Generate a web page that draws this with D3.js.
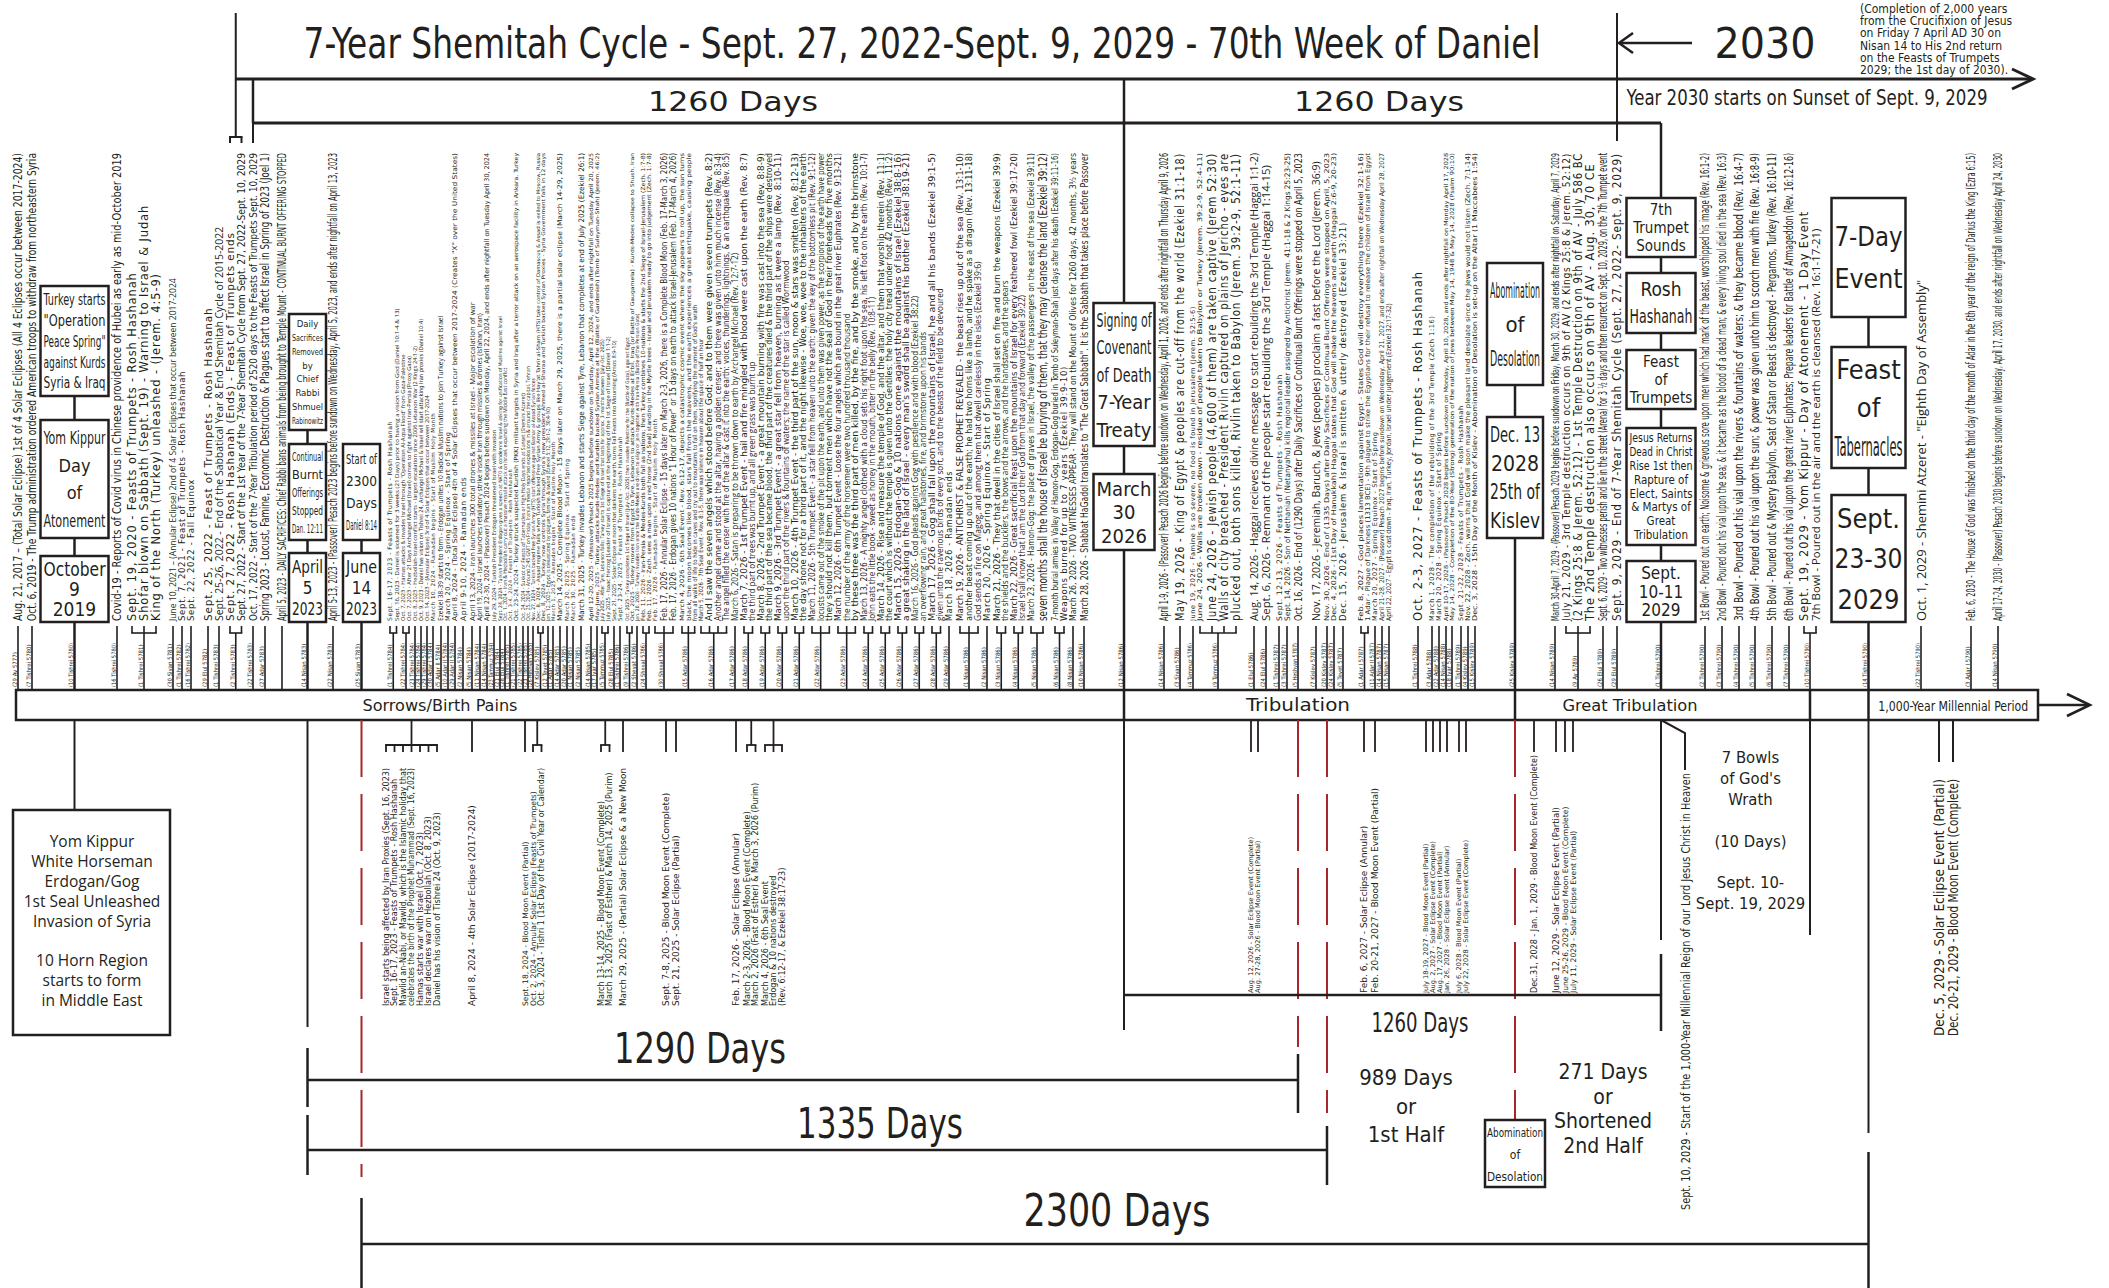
<!DOCTYPE html>
<html>
<head>
<meta charset="utf-8">
<title>7-Year Shemitah Cycle - 70th Week of Daniel</title>
<style>
  body { margin: 0; background: #fff; }
  svg { display: block; }
  text { fill: #231f20; }
  .ln { stroke: #231f20; fill: none; }
  .red { stroke: #a8262b; stroke-width: 2; stroke-dasharray: 57 17; fill: none; }
  .box { fill: #fff; stroke: #231f20; stroke-width: 2.5; }
  .cond { font-family: "Liberation Sans Narrow", "DejaVu Sans Condensed", "Open Sans", sans-serif; }
  .reg { font-family: "Open Sans", "Liberation Sans", sans-serif; }
  .wide { font-family: "DejaVu Sans", Verdana, sans-serif; }
</style>
</head>
<body>
<svg width="2109" height="1288"></svg>
<script src="https://cdn.jsdelivr.net/npm/d3@7/dist/d3.min.js"></script>
<script>
// ---------------- data ----------------
// events written above the time bar: [date, text, kind]  (kind h = holy day, e = event, n = long note)
var topLines = [
  ['2017-08-21', 'Aug. 21, 2017 – (Total Solar Eclipse) 1st of 4 Solar Eclipses (All 4 Eclipses occur between 2017-2024)', 'n'],
  ['2019-10-06', 'Oct. 6, 2019 - The Trump administration ordered American troops to withdraw from northeastern Syria', 'n'],
  ['2019-10-15', 'Covid-19 - Reports of Covid virus in Chinese providence of Hubei as early as mid-October 2019', 'n'],
  ['2020-09-19', 'Sept. 19, 2020 - Feasts of Trumpets - Rosh Hashanah', 'h'],
  ['2020-09-19', 'Shofar blown on Sabbath (Sept. 19) - Warning to Israel & Judah', 'h'],
  ['2020-09-19', 'King of the North (Turkey) unleashed - (Jerem. 4:5-9)', 'h'],
  ['2021-06-10', 'June 10, 2021 – (Annular Eclipse) 2nd of 4 Solar Eclipses that occur between 2017-2024', 'e'],
  ['2021-09-07', 'Sept. 7, 2021 - Feast of Trumpets - Rosh Hashanah', 'h'],
  ['2021-09-22', 'Sept. 22, 2022 - Fall Equinox', 'h'],
  ['2022-09-25', 'Sept. 25, 2022 - Feast of Trumpets - Rosh Hashanah', 'h'],
  ['2022-09-26', 'Sept. 25-26, 2022 - End of the Sabbatical Year & End Shemitah Cycle of 2015-2022', 'e'],
  ['2022-09-27', 'Sept. 27, 2022 - Rosh Hashanah (Ends) - Feast of Trumpets ends', 'h'],
  ['2022-09-27', 'Sept. 27, 2022 - Start of the 1st Year of the 7-Year Shemitah Cycle from Sept. 27, 2022-Sept. 10, 2029', 'n'],
  ['2022-10-17', 'Oct. 17, 2022 - Start of the 7-Year Tribulation period of 2520 days to the Feasts of Trumpets Sept. 10, 2029', 'n'],
  ['2023-03-20', 'Spring 2023 - Locust, Famine, Economic Destruction & Plagues start to affect Israel in Spring of 2023 (Joel 1)', 'n'],
  ['2023-04-05', 'April 5, 2023 - DAILY SACRIFICES: Chief Rabbi bans animals from being brought to Temple Mount - CONTINUAL BURNT OFFERING STOPPED', 'n'],
  ['2023-04-13', 'April 5-13, 2023 - (Passover) Pesach 2023 begins before sundown on Wednesday, April 5, 2023, and ends after nightfall on April 13, 2023', 'n'],
  ['2023-09-16', 'Sept. 16-17, 2023 - Feasts of Trumpets - Rosh Hashanah', 'h'],
  ['2023-09-16', 'Sept. 16, 2023 - Daniel is sickened for 3 weeks (21 Days) prior to having a vision from God (Daniel 10:1-4 & 13)', 'e'],
  ['2023-10-07', 'Oct. 7, 2023 - Hamas attacks & invades Israel through "Operation Al-Aqsa Flood" from Gaza-Palestine', 'e'],
  ['2023-10-07', 'Oct. 7, 2023 - After 21 Days Archangel Michael (Israel) comes to fight against Iran-Persia (Proxy Gaza)', 'e'],
  ['2023-10-08', 'Oct. 8, 2023 - Hezbollah-Israel conflict starts - largest escalation since 2006 Lebanon War (2 Kings 24:1-2)', 'e'],
  ['2023-10-09', 'Oct. 9, 2023 - Daniel has vision on Tishrei 24, Archangel Michael & Israel will start attacking Iran proxies (Daniel 10:4)', 'n'],
  ['2023-10-14', 'Oct. 14, 2023 – (Annular Eclipse) 3rd of 4 Solar Eclipses that occur between 2017-2024', 'e'],
  ['2024-03-10', 'March 10, 2024 - Ramadan begins - Start of Muslim Holy Month', 'h'],
  ['2024-03-15', 'Ezekiel 38-39 starts to form - Erdogan unites 10 Radical Muslim nations to join Turkey against Israel', 'e'],
  ['2024-03-20', 'March 20, 2024 - Spring Equinox - Start of Spring', 'h'],
  ['2024-04-08', 'April 8, 2024 - (Total Solar Eclipse) 4th of 4 Solar Eclipses that occur between 2017-2024 (Creates "X" over the United States)', 'n'],
  ['2024-04-10', 'April 9-10, 2024 - Ramadan ends', 'h'],
  ['2024-04-13', 'April 13, 2024 - Iran launches 300 total drones & missiles at Israel - Major escalation of war', 'e'],
  ['2024-04-19', 'April 19, 2024 - Israel launches retaliatory strike inside Iran through missiles & drones (Isfahan, Iran)', 'e'],
  ['2024-04-22', 'April 22-30, 2024 - (Passover) Pesach 2024 begins before sundown on Monday, April 22, 2024, and ends after nightfall on Tuesday April 30, 2024', 'n'],
  ['2024-07-29', 'July 29, 2024 - Turkish President Erdogan threatened Israel with invasion', 'e'],
  ['2024-09-24', 'Sept. 24, 2024 - Turkish President Erdogan gives a speech at NATO & condemns Israel & asking for unification of Muslims against Israel', 'n'],
  ['2024-10-01', 'Oct. 1, 2024 - Iran & Hezbollah carry out a massive missile attack on Israel, expanding the Middle East conflict', 'e'],
  ['2024-10-03', 'Oct. 3-4, 2024 - Feasts of Trumpets - Rosh Hashanah', 'h'],
  ['2024-10-23', 'Oct. 23-24, 2024 - Turkey struck suspected Kurdish (PKK) militant targets in Syria and Iraq after a terror attack on an aerospace facility in Ankara, Turkey', 'n'],
  ['2024-10-24', 'Oct. 24, 2024 - Sukkot or Feasts of Tabernacles or High Holy Days ends at Sunset (Shemini Atzeret)', 'e'],
  ['2024-10-25', 'Oct. 25, 2024 - Around 2:45 GMT on Friday, Iranian media reported explosions in & around the capital, Tehran', 'e'],
  ['2024-11-27', 'Nov. 27, 2024 - Turkish backed Free Syrian Army (HTS) start offensive against Bashar al-Assad Syrian forces', 'n'],
  ['2024-12-08', "Dec. 8, 2024 - Assad regime falls when Turkish backed Free Syrian Army & groups like Hay'at Tahrir al-Sham (HTS) take control of Damascus & Assad is exiled to Moscow, Russia", 'n'],
  ['2024-12-08', "Dec. 8, 2024 - Turkey now controls Syria through Syria's new president Ahmed al-Sharaa and Turkish backed Syrian Proxies - Syria Government falls in 12 days", 'n'],
  ['2025-01-12', 'Jan. 12, 2025 - Egypt is devastated by plagues, famine, & sword (Ezekiel 5:12, 29:1-2, 30:4-10)', 'e'],
  ['2025-03-01', 'March 1, 2025 - Ramadan begins - Start of Muslim Holy Month', 'h'],
  ['2025-03-14', 'March 14, 2025 - Complete Blood Moon - 15 days later on March 29, 2025, there is a partial solar eclipse (March 14-29, 2025)', 'n'],
  ['2025-03-20', 'March 20, 2025 - Spring Equinox - Start of Spring', 'h'],
  ['2025-03-30', 'March 30, 2025 - Ramadan ends', 'h'],
  ['2025-03-31', 'March 31, 2025 - Turkey invades Lebanon and starts Siege against Tyre, Lebanon that completes at end of July 2025 (Ezekiel 26:1)', 'n'],
  ['2025-04-12', 'April 12-20, 2025 - (Passover) Pesach 2025 begins before sundown on Saturday, April 12, 2024, and ends after nightfall on Tuesday April 20, 2025', 'n'],
  ['2025-05-15', 'May-June, 2025 - Turkey attacks Kurds-Medes and Kurdish backed Syrian Armies at the (Battle of Gardenish) (Tomb of Suleyman-Shah) (Jerem. 46:2)', 'n'],
  ['2025-07-01', 'July 2025 - After Tyre, Lebanon falls; Turkey starts 1st Siege of Israel that lasts for approx. 3 months between (July-Oct. 2025)', 'n'],
  ['2025-07-01', 'July 2025 - Isaac Herzog (Leader of Israel) is captured at the beginning of the 1st Siege of Israel (Daniel 1:1-2)', 'e'],
  ['2025-09-21', 'Sept. 21, 2025 - Solar Eclipse at noon that darkens the earth, turns Fall Feasts into Mourning (Amos 8:9-10)', 'e'],
  ['2025-09-23', 'Sept. 23-24, 2025 - Feasts of Trumpets - Rosh Hashanah', 'h'],
  ['2025-10-01', 'Oct. 2025 - Turkey completes 1st Siege of Israel (July-Oct. 2025) then invades Palestine for the (Battle of Gaza), against Egypt', 'n'],
  ['2025-10-01', 'Oct. 2025 - Turkey moves from Egypt to Tyre, Lebanon to attack Kurds-Medes at Erbil, Iraq (or Battle of Gaugamela) - Kurds-Medes collapse to Shush, Iran', 'n'],
  ['2026-01-20', 'Jan. 20, 2026 - Turkey invades Iran once the Kurds-Medes are driven to align or join together with Iran-Persia (Battle of the Persian Gate)', 'n'],
  ['2026-02-11', 'Feb. 11, 2026 - Iran-Persia & Medes-Kurds both fall as nations; then Turkey combines 10-nations & starts the 2nd Siege of Israel-Jerusalem (Zech. 1:7-8)', 'n'],
  ['2026-02-11', 'Feb. 11, 2026 - Zech. sees a man upon a red horse (2nd Seal) standing in the Myrtle trees - Israel and Jerusalem ready to go into judgement (Zech. 1:7-8)', 'n'],
  ['2026-02-17', 'Feb. 17, 2026 - Ramadan begins - Start of Muslim Holy Month', 'h'],
  ['2026-02-17', 'Feb. 17, 2026 - Annular Solar Eclipse - 15 days later on March 2-3, 2026, there is a Complete Blood Moon (Feb. 17-March 3, 2026)', 'n'],
  ['2026-02-17', 'Feb. 17, 2026 - Erdogan gives 10 nations "1 Hour of Power" or 15 days on earth to attack Israel-Jerusalem (Feb. 17-March 4, 2026)', 'n'],
  ['2026-03-04', 'March 4, 2026 - 6th Seal Event - Rev. 6:12-17, depicts a catastrophic cosmic event where the sky appears to roll up, the sun turns', 'n'],
  ['2026-03-04', 'black, the moon becomes like blood, stars fall from the heavens, and the earth experiences a great earthquake, causing people', 'n'],
  ['2026-03-04', "from all walks of life to hide in caves and cry out to mountains to fall on them, signifying the moment of God's wrath", 'n'],
  ['2026-03-05', 'March 5, 2026 - 7th Seal Event - Rev. 8:1-5, there was silence in heaven about the space of half an hour', 'n'],
  ['2026-03-05', 'And I saw the seven angels which stood before God; and to them were given seven trumpets (Rev. 8:2)', 'n'],
  ['2026-03-05', 'Another angel came and stood at the altar, having a golden censer; and there was given unto him much incense (Rev. 8:3-4)', 'n'],
  ['2026-03-05', 'The angel filled the censer with fire of the altar & cast it into the earth: voices, thunderings, lightnings, & an earthquake (Rev. 8:5)', 'n'],
  ['2026-03-06', 'March 6, 2026 - Satan is preparing to be thrown down to earth by Archangel Michael (Rev. 12:7-12)', 'e'],
  ['2026-03-07', 'March 7, 2026 - 1st Trumpet Event - hail and fire mingled with blood were cast upon the earth (Rev. 8:7)', 'n'],
  ['2026-03-07', 'the third part of trees was burnt up, and all green grass was burnt up', 'e'],
  ['2026-03-08', 'March 8, 2026 - 2nd Trumpet Event - a great mountain burning with fire was cast into the sea (Rev. 8:8-9)', 'n'],
  ['2026-03-08', 'the third part of the sea became blood, the third part of the creatures died & the third part of the ships were destroyed', 'n'],
  ['2026-03-09', 'March 9, 2026 - 3rd Trumpet Event - a great star fell from heaven, burning as it were a lamp (Rev. 8:10-11)', 'n'],
  ['2026-03-09', 'upon the third part of the rivers & fountains of waters; the name of the star is called Wormwood', 'e'],
  ['2026-03-10', 'March 10, 2026 - 4th Trumpet Event - the third part of the sun, moon & stars was smitten (Rev. 8:12-13)', 'n'],
  ['2026-03-10', 'the day shone not for a third part of it, and the night likewise - Woe, woe, woe to the inhabiters of the earth', 'n'],
  ['2026-03-11', 'March 11, 2026 - 5th Trumpet Event - a star fell from heaven unto the earth: given the key of the bottomless pit (Rev. 9:1-12)', 'n'],
  ['2026-03-11', 'locusts came out of the smoke of the pit upon the earth, and unto them was given power, as the scorpions of the earth have power', 'n'],
  ['2026-03-11', 'they should not kill them, but torment men which have not the seal of God in their foreheads for five months', 'n'],
  ['2026-03-12', 'March 12, 2026 - 6th Trumpet Event - Loose the four angels which are bound in the great river Euphrates (Rev. 9:13-21)', 'n'],
  ['2026-03-12', 'the number of the army of the horsemen were two hundred thousand thousand', 'e'],
  ['2026-03-12', 'by these three was the third part of men killed, by the fire, and by the smoke, and by the brimstone', 'n'],
  ['2026-03-13', 'March 13, 2026 - A mighty angel clothed with a cloud sets his right foot upon the sea, his left foot on the earth (Rev. 10:1-7)', 'n'],
  ['2026-03-13', 'John eats the little book - sweet as honey in the mouth, bitter in the belly (Rev. 10:8-11)', 'e'],
  ['2026-03-14', 'March 14, 2026 - Rise and measure the temple of God, and the altar, and them that worship therein (Rev. 11:1)', 'n'],
  ['2026-03-14', 'the court which is without the temple is given unto the Gentiles: the holy city tread under foot 42 months (Rev. 11:2)', 'n'],
  ['2026-03-15', 'March 15, 2026 - Erdogan-Gog & 10 nations come against the mountains of Israel (Ezekiel 38:8-16)', 'n'],
  ['2026-03-15', "a great shaking in the land of Israel - every man's sword shall be against his brother (Ezekiel 38:19-21)", 'n'],
  ['2026-03-16', 'March 16, 2026 - God pleads against Gog with pestilence and with blood (Ezekiel 38:22)', 'e'],
  ['2026-03-16', 'an overflowing rain, and great hailstones, fire, and brimstone upon his bands', 'e'],
  ['2026-03-17', 'March 17, 2026 - Gog shall fall upon the mountains of Israel, he and all his bands (Ezekiel 39:1-5)', 'n'],
  ['2026-03-17', 'given unto the ravenous birds of every sort, and to the beasts of the field to be devoured', 'e'],
  ['2026-03-18', 'March 18, 2026 - Ramadan ends', 'h'],
  ['2026-03-19', 'March 19, 2026 - ANTICHRIST & FALSE PROPHET REVEALED - the beast rises up out of the sea (Rev. 13:1-10)', 'n'],
  ['2026-03-19', 'another beast coming up out of the earth; he had two horns like a lamb, and he spake as a dragon (Rev. 13:11-18)', 'n'],
  ['2026-03-19', 'God sends a fire on Magog, and among them that dwell carelessly in the isles (Ezekiel 39:6)', 'e'],
  ['2026-03-20', 'March 20, 2026 - Spring Equinox - Start of Spring', 'h'],
  ['2026-03-21', 'March 21, 2026 - They that dwell in the cities of Israel shall set on fire and burn the weapons (Ezekiel 39:9)', 'n'],
  ['2026-03-21', 'the shields and the bucklers, the bows and the arrows, and the handstaves, and the spears', 'e'],
  ['2026-03-22', 'March 22, 2026 - Great sacrificial feast upon the mountains of Israel for every feathered fowl (Ezekiel 39:17-20)', 'n'],
  ['2026-03-22', 'Israel shall know that I am the Lord their God from that day and forward (Ezekiel 39:22)', 'e'],
  ['2026-03-23', 'March 23, 2026 - Hamon-Gog: the place of graves in Israel, the valley of the passengers on the east of the sea (Ezekiel 39:11)', 'n'],
  ['2026-03-23', 'seven months shall the house of Israel be burying of them, that they may cleanse the land (Ezekiel 39:12)', 'n'],
  ['2026-03-24', '7-month burial armies in Valley of Hamon-Gog, Erdogan-Gog buried in Tomb of Suleyman-Shah just days after his death (Ezekiel 39:11-16)', 'n'],
  ['2026-03-24', 'Weapons burned for up to 7 years (Ezekiel 39:9-10)', 'h'],
  ['2026-03-26', 'March 26, 2026 - TWO WITNESSES APPEAR - They will stand on the Mount of Olives for 1260 days, 42 months, 3½ years', 'n'],
  ['2026-03-28', 'March 28, 2026 - Shabbat HaGadol translates to "The Great Sabbath". It is the Sabbath that takes place before Passover', 'n'],
  ['2026-04-01', 'April 1-9, 2026 - (Passover) Pesach 2026 begins before sundown on Wednesday, April 1, 2026, and ends after nightfall on Thursday April 9, 2026', 'n'],
  ['2026-05-19', 'May 19, 2026 - King of Egypt & peoples are cut-off from the world (Ezekiel 31:1-18)', 'h'],
  ['2026-06-19', 'June 19, 2026 - Famine is so severe, no food is found in Jerusalem (Jerem. 52:5-6)', 'h'],
  ['2026-06-24', 'June 24, 2026 - Walls are broken down - residue of people taken to Babylon or Turkey (Jerem. 39:2-9, 52:4-11)', 'n'],
  ['2026-06-24', 'June 24, 2026 - Jewish people (4,600 of them) are taken captive (Jerem 52:30)', 'h'],
  ['2026-06-24', 'Walls of city breached - President Rivlin captured on plains of Jericho - eyes are', 'h'],
  ['2026-06-24', 'plucked out, both sons killed, Rivlin taken to Babylon (Jerem. 39:2-9, 52:1-11)', 'h'],
  ['2026-08-14', 'Aug. 14, 2026 - Haggai recieves divine message to start rebuilding the 3rd Temple (Haggai 1:1-2)', 'e'],
  ['2026-09-06', 'Sept. 6, 2026 - Remnant of the people start rebuilding the 3rd Temple (Haggai 1:14-15)', 'e'],
  ['2026-09-12', 'Sept. 12-13, 2026 - Feasts of Trumpets - Rosh Hashanah', 'h'],
  ['2026-09-14', 'Sept. 14, 2026 - Son of Nethaniah (Netanyahu) kills regional leader assigned by Antichrist (Jerem. 41:1-18 & 2 Kings 25:23-25)', 'n'],
  ['2026-10-16', 'Oct. 16, 2026 - End of (1290 Days) after Daily Sacrifices or Continual Burnt Offerings were stopped on April 5, 2023', 'n'],
  ['2026-11-17', 'Nov. 17, 2026 - Jeremiah, Baruch, & Jews (peoples) proclaim a fast before the Lord (Jerem. 36:9)', 'e'],
  ['2026-11-30', 'Nov. 30, 2026 - End of (1335 Days) after Daily Sacrifices or Continual Burnt Offerings were stopped on April, 5, 2023', 'n'],
  ['2026-12-04', 'Dec. 4, 2026 - (1st Day of Hanukkah) Haggai states that God will shake the heavens and earth (Haggai 2:6-9, 20-23)', 'n'],
  ['2026-12-15', 'Dec. 15, 2026 - Jerusalem & Israel is smitten & utterly destroyed (Ezekiel 33:21)', 'h'],
  ['2027-02-08', 'Feb. 8, 2027 - God places lamentation against Egypt - States God will destroy everything there (Ezekiel 32:1-16)', 'n'],
  ['2027-02-08', '1 Adar - Plague of Darkness (1313 BCE) - 9th plague to strike the Egyptians for their refusal to release the children of Israel from Egypt', 'n'],
  ['2027-03-20', 'March 20, 2027 - Spring Equinox - Start of Spring', 'h'],
  ['2027-04-21', 'April 21-28, 2027 - (Passover) Pesach 2027 begins before sundown on Wednesday, April 21, 2027, and ends after nightfall on Wednesday April 28, 2027', 'n'],
  ['2027-04-22', 'April 22, 2027 - Egypt is cast down - Iraq, Iran, Turkey, Jordan, Israel under judgement (Ezekiel 32:17-32)', 'e'],
  ['2027-10-02', 'Oct. 2-3, 2027 - Feasts of Trumpets - Rosh Hashanah', 'h'],
  ['2028-03-01', 'March 1, 2028 - The completion of the rebuilding of the 3rd Temple (Zech 1:16)', 'h'],
  ['2028-03-20', 'March 20, 2028 - Spring Equinox - Start of Spring', 'h'],
  ['2028-04-10', 'April 10-17, 2028 - (Passover) Pesach 2028 begins before sundown on Monday, April 10, 2028, and ends after nightfall on Monday April 17, 2028', 'n'],
  ['2028-05-14', 'May 14, 2028 - Completion of the 80-Year (Strong) generation of the nation of Jews between May 14, 1948 & May 14, 2028 (Psalm 90:10)', 'n'],
  ['2028-09-21', 'Sept. 21-22, 2028 - Feasts of Trumpets - Rosh Hashanah', 'h'],
  ['2028-11-22', 'Nov. 22, 2028 - Zech. warns that God will soon make the pleasant land desolate since the Jews would not listen (Zech. 7:1-14)', 'n'],
  ['2028-12-03', 'Dec. 3, 2028 - 15th Day of the Month of Kislev - Abomination of Desolation is set-up on the Altar (1 Maccabees 1:54)', 'n'],
  ['2029-03-30', 'March 30-April 7, 2029 - (Passover) Pesach 2029 begins before sundown on Friday, March 30, 2029, and ends after nightfall on Saturday, April 7, 2029', 'n'],
  ['2029-07-21', 'July 21, 2029 - 3rd Temple destruction occurs on 9th of AV (2 Kings 25:8 & Jerem. 52:12)', 'h'],
  ['2029-07-21', '(2 Kings 25:8 & Jerem. 52:12) - 1st Temple Destruction on 9th of AV - July 586 BC', 'h'],
  ['2029-07-21', 'The 2nd Temple destruction also occurs on 9th of AV - Aug. 30, 70 CE', 'h'],
  ['2029-09-06', 'Sept. 6, 2029 - Two witnesses perish and lie in the street (Arena) for 3 ½ days and then resurrect on Sept. 10, 2029, on the 7th Trumpet event', 'n'],
  ['2029-09-09', 'Sept. 9, 2029 - End of 7-Year Shemitah Cycle (Sept. 27, 2022- Sept. 9, 2029)', 'h'],
  ['2029-09-11', '1st Bowl - Poured out on earth; Noisome & grievous sore upon men which had mark of the beast, worshipped his image (Rev. 16:1-2)', 'n'],
  ['2029-09-12', '2nd Bowl - Poured out his vial upon the sea; & it became as the blood of a dead man; & every living soul died in the sea (Rev. 16:3)', 'n'],
  ['2029-09-13', '3rd Bowl - Poured out his vial upon the rivers & fountains of waters; & they became blood (Rev. 16:4-7)', 'n'],
  ['2029-09-14', '4th Bowl - Poured out his vial upon the sun; & power was given unto him to scorch men with fire (Rev. 16:8-9)', 'n'],
  ['2029-09-15', '5th Bowl - Poured out & Mystery Babylon, Seat of Satan or Beast is destroyed - Pergamos, Turkey (Rev. 16:10-11)', 'n'],
  ['2029-09-16', '6th Bowl - Poured out his vial upon the great river Euphrates; Prepare leaders for Battle of Armageddon (Rev. 16:12-16)', 'n'],
  ['2029-09-19', 'Sept. 19, 2029 - Yom Kippur - Day of Atonement - 1 Day Event', 'h'],
  ['2029-09-19', '7th Bowl - Poured out in the air and the earth is cleansed (Rev. 16:1-17-21)', 'e'],
  ['2029-10-01', 'Oct. 1, 2029 - Shemini Atzeret - "Eighth Day of Assembly"', 'e'],
  ['2030-02-06', 'Feb. 6, 2030 - The House of God was finished on the third day of the month of Adar in the 6th year of the reign of Darius the King (Ezra 6:15)', 'n'],
  ['2030-04-17', 'April 17-24, 2030 - (Passover) Pesach 2030 begins before sundown on Wednesday, April 17, 2030, and ends after nightfall on Wednesday April 24, 2030', 'n']
];

// stacked boxes above the bar: [date, [lines of each box]]
var boxColumns = [
  ['2019-10-09', [['Turkey starts', '"Operation', 'Peace Spring"', 'against Kurds', 'Syria & Iraq'], ['Yom Kippur', 'Day', 'of', 'Atonement'], ['October', '9', '2019']]],
  ['2023-04-05', [['Daily', 'Sacrifices', 'Removed', 'by', 'Chief', 'Rabbi', 'Shmuel', 'Rabinowitz'], ['Continual', 'Burnt', 'Offerings', 'Stopped', 'Dan. 12:11'], ['April', '5', '2023']]],
  ['2023-06-14', [['Start of', '2300', 'Days', 'Daniel 8:14'], ['June', '14', '2023']]],
  ['2026-03-30', [['Signing of', 'Covenant', 'of Death', '7-Year', 'Treaty'], ['March', '30', '2026']]],
  ['2028-12-13', [['Abomination', 'of', 'Desolation'], ['Dec. 13', '2028', '25th of', 'Kislev']]],
  ['2029-09-10', [['7th', 'Trumpet', 'Sounds'], ['Rosh', 'Hashanah'], ['Feast', 'of', 'Trumpets'], ['Jesus Returns', 'Dead in Christ', 'Rise 1st then', 'Rapture of', 'Elect, Saints', '& Martys of', 'Great', 'Tribulation'], ['Sept.', '10-11', '2029']]],
  ['2029-09-23', [['7-Day', 'Event'], ['Feast', 'of', 'Tabernacles'], ['Sept.', '23-30', '2029']]]
];

// eclipses and events written below the bar: [date, text]
var belowLines = [
  ['2023-09-16', 'Israel starts being affected by Iran Proxies (Sept. 16, 2023)'],
  ['2023-09-16', 'Sept. 16-17, 2023 - Feasts of Trumpets - Rosh Hashanah'],
  ['2023-09-16', 'Mawlid an-Nabi, or Mawlid, which is the Islamic holiday that'],
  ['2023-09-16', 'celebrates the birth of the Prophet Muhammad (Sept. 16, 2023)'],
  ['2023-09-16', 'Hamas starts war with Israel  (Oct. 7, 2023)'],
  ['2023-09-16', 'Israel declares war on Hezbollah (Oct. 8, 2023)'],
  ['2023-09-16', 'Daniel has his vision of Tishrei 24 (Oct. 9, 2023)'],
  ['2024-04-08', 'April 8, 2024 - 4th Solar Eclipse (2017-2024)'],
  ['2024-09-18', 'Sept. 18, 2024 - Blood Moon Event (Partial)'],
  ['2024-10-02', 'Oct. 2, 2024 - Annular Solar Eclipse (Feasts of Trumpets)'],
  ['2024-10-02', 'Oct. 3, 2024 - Tishri 1 (1st Day of the Civil Year or Calendar)'],
  ['2025-03-13', 'March 13-14, 2025 - Blood Moon Event (Complete)'],
  ['2025-03-13', 'March 13, 2025 (Fast of Esther) & March 14, 2025 (Purim)'],
  ['2025-03-29', 'March 29, 2025 - (Partial) Solar Eclipse & a New Moon'],
  ['2025-09-07', 'Sept. 7-8, 2025 - Blood Moon Event (Complete)'],
  ['2025-09-21', 'Sept. 21, 2025 - Solar Eclipse (Partial)'],
  ['2026-02-17', 'Feb. 17, 2026 - Solar Eclipse (Annular)'],
  ['2026-03-02', 'March 2-3, 2026 - Blood Moon Event (Complete)'],
  ['2026-03-02', 'March 2, 2026 (Fast of Esther) & March 3, 2026 (Purim)'],
  ['2026-03-04', 'March 4, 2026 - 6th Seal Event'],
  ['2026-03-04', 'Erdogan & 10 nations destroyed'],
  ['2026-03-04', '(Rev. 6:12-17, & Ezekiel 38:17-23)'],
  ['2026-08-12', 'Aug. 12, 2026 - Solar Eclipse Event (Complete)'],
  ['2026-08-27', 'Aug. 27-28, 2026 - Blood Moon Event (Partial)'],
  ['2027-02-06', 'Feb. 6, 2027 - Solar Eclipse (Annular)'],
  ['2027-02-20', 'Feb. 20-21, 2027 - Blood Moon Event (Partial)'],
  ['2027-07-18', 'July 18-19, 2027 - Blood Moon Event (Partial)'],
  ['2027-08-02', 'Aug. 2, 2027 - Solar Eclipse Event (Complete)'],
  ['2027-08-17', 'Aug. 17, 2027 - Blood Moon Event (Partial)'],
  ['2028-01-26', 'Jan. 26, 2028 - Solar Eclipse Event (Annular)'],
  ['2028-07-06', 'July 6, 2028 - Blood Moon Event (Partial)'],
  ['2028-07-22', 'July 22, 2028 - Solar Eclipse Event (Complete)'],
  ['2028-12-31', 'Dec.31, 2028 - Jan. 1, 2029 - Blood Moon Event (Complete)'],
  ['2029-06-12', 'June 12, 2029 - Solar Eclipse Event (Partial)'],
  ['2029-06-25', 'June 25-26, 2029 - Blood Moon Event (Complete)'],
  ['2029-07-11', 'July 11, 2029 - Solar Eclipse Event (Partial)']
];

var belowNotes = [
  ['2029-09-10', 'Sept. 10, 2029 - Start of the 1,000-Year Millennial Reign of our Lord Jesus Christ in Heaven'],
  ['2029-12-05', 'Dec. 5, 2029 - Solar Eclipse Event (Partial)'],
  ['2029-12-20', 'Dec. 20-21, 2029 - Blood Moon Event (Complete)']
];

var eraLabels = ['Sorrows/Birth Pains', 'Tribulation', 'Great Tribulation', '1,000-Year Millennial Period'];
var eraBreaks = ['2026-03-30', '2028-12-13', '2029-09-19', '2029-09-23'];
var topPeriods = [['1260 Days', '2022-10-17', '2026-03-30'], ['1260 Days', '2026-03-30', '2029-09-10']];
var bottomPeriods = [['1260 Days', '2026-03-30', '2029-09-10'], ['1290 Days', '2023-04-05', '2026-10-16'],
                     ['1335 Days', '2023-04-05', '2026-11-30'], ['2300 Days', '2023-06-14', '2029-09-23']];
var redMarks = ['2023-06-14', '2026-10-16', '2026-11-30', '2028-12-13'];
var horsemanLines = ['Yom Kippur', 'White Horseman', 'Erdogan/Gog', '1st Seal Unleashed', 'Invasion of Syria', '', '10 Horn Region', 'starts to form', 'in Middle East'];
var bowlsLines = ['7 Bowls', "of God's", 'Wrath', '', '(10 Days)', '', 'Sept. 10-', 'Sept. 19, 2029'];
var halfLines = [['989 Days', 'or', '1st Half'], ['271 Days', 'or', 'Shortened', '2nd Half']];
var completionNote = ['(Completion of 2,000 years', 'from the Crucifixion of Jesus', 'on Friday 7 April AD 30 on', 'Nisan 14 to His 2nd return', 'on the Feasts of Trumpets', '2029; the 1st day of 2030).'];
var titleText = '7-Year Shemitah Cycle - Sept. 27, 2022-Sept. 9, 2029 - 70th Week of Daniel';

// ---------------- layout ----------------
var svg = d3.select('svg');
var parse = d3.utcParse('%Y-%m-%d');
var BAR_TOP = 690, BAR_BOT = 720, BAR_L = 16, BAR_R = 2038;
var TOP_Y0 = 621, TOP_MAX = 468, TITLE_Y = 79, BAND_Y = 123;
var BELOW_Y0 = 1006, BELOW_MAX = 246;

// time bar is not linear in time: piecewise scale anchored on dates
var topAnchors = [['2017-08-21', 18], ['2019-10-06', 32], ['2019-10-15', 117], ['2020-09-19', 132], ['2021-06-10', 173],
  ['2021-09-07', 182], ['2021-09-22', 191], ['2022-09-25', 208], ['2022-09-26', 219], ['2022-09-27', 230], ['2022-10-17', 253],
  ['2023-03-20', 265], ['2023-04-05', 282], ['2023-04-13', 333], ['2023-09-16', 390], ['2023-10-07', 403], ['2023-10-08', 415],
  ['2023-10-09', 421], ['2023-10-14', 427], ['2024-03-10', 433], ['2024-03-15', 441], ['2024-03-20', 448], ['2024-04-08', 455],
  ['2024-04-10', 463], ['2024-04-13', 472], ['2024-04-19', 480], ['2024-04-22', 487], ['2024-07-29', 494], ['2024-09-24', 500],
  ['2024-10-01', 505], ['2024-10-03', 510], ['2024-10-23', 516], ['2024-10-24', 523], ['2024-10-25', 528], ['2024-11-27', 533],
  ['2024-12-08', 538], ['2025-01-12', 548], ['2025-03-01', 553], ['2025-03-14', 560], ['2025-03-20', 567], ['2025-03-30', 573],
  ['2025-03-31', 581], ['2025-04-12', 591], ['2025-05-15', 597], ['2025-07-01', 602], ['2025-09-21', 614], ['2025-09-23', 620],
  ['2025-10-01', 627], ['2026-01-20', 637], ['2026-02-11', 643], ['2026-02-17', 655], ['2026-03-04', 682],
  ['2026-03-05', 701], ['2026-03-06', 735], ['2026-03-07', 744], ['2026-03-08', 761], ['2026-03-09', 778], ['2026-03-10', 795],
  ['2026-03-11', 812], ['2026-03-12', 838], ['2026-03-13', 864], ['2026-03-14', 881], ['2026-03-15', 898], ['2026-03-16', 915],
  ['2026-03-17', 932], ['2026-03-18', 949], ['2026-03-19', 960], ['2026-03-20', 987], ['2026-03-21', 997], ['2026-03-22', 1014],
  ['2026-03-23', 1031], ['2026-03-24', 1055],
  ['2026-03-26', 1073], ['2026-03-28', 1084], ['2026-04-01', 1164], ['2026-05-19', 1180], ['2026-06-19', 1193], ['2026-06-24', 1200],
  ['2026-08-14', 1254], ['2026-09-06', 1266], ['2026-09-12', 1279], ['2026-09-14', 1287], ['2026-10-16', 1298], ['2026-11-17', 1316],
  ['2026-11-30', 1327], ['2026-12-04', 1334], ['2026-12-15', 1343], ['2027-02-08', 1361], ['2027-03-20', 1375], ['2027-04-21', 1382],
  ['2027-04-22', 1389], ['2027-10-02', 1418], ['2028-03-01', 1432], ['2028-03-20', 1439], ['2028-04-10', 1446], ['2028-05-14', 1452],
  ['2028-09-21', 1461], ['2028-11-22', 1468], ['2028-12-03', 1475], ['2029-03-30', 1555], ['2029-07-21', 1566], ['2029-09-06', 1603],
  ['2029-09-09', 1617], ['2029-09-11', 1705], ['2029-09-12', 1722], ['2029-09-13', 1739], ['2029-09-14', 1755], ['2029-09-15', 1772],
  ['2029-09-16', 1789], ['2029-09-19', 1804], ['2029-10-01', 1921], ['2030-02-06', 1971], ['2030-04-17', 1998]];
var belowAnchors = [['2023-09-16', 386], ['2024-04-08', 472], ['2024-09-18', 525], ['2024-10-02', 533], ['2025-03-13', 601],
  ['2025-03-29', 623], ['2025-09-07', 666], ['2025-09-21', 676], ['2026-02-17', 736], ['2026-03-02', 747], ['2026-03-04', 765],
  ['2026-08-12', 1251], ['2026-08-27', 1258], ['2027-02-06', 1364], ['2027-02-20', 1375], ['2027-07-18', 1426], ['2027-08-02', 1433],
  ['2027-08-17', 1440], ['2028-01-26', 1447], ['2028-07-06', 1459], ['2028-07-22', 1466], ['2028-12-31', 1534], ['2029-06-12', 1556],
  ['2029-06-25', 1565], ['2029-07-11', 1573], ['2029-09-10', 1685], ['2029-12-05', 1939], ['2029-12-20', 1953]];

function anchoredScale(a) {
  return d3.scaleUtc().domain(a.map(function(d) { return parse(d[0]); })).range(a.map(function(d) { return d[1]; })).clamp(true);
}
var xTop = anchoredScale(topAnchors);
var xBelow = anchoredScale(belowAnchors);

// lines sharing a date are spread out until the next date
function layoutLines(lines, scale, cap) {
  var groups = [], i = 0;
  while (i < lines.length) {
    var j = i;
    while (j < lines.length && lines[j][0] === lines[i][0]) j++;
    var x0 = scale(parse(lines[i][0]));
    var xn = j < lines.length ? scale(parse(lines[j][0])) : x0 + cap * (j - i);
    var step = Math.min(cap, (xn - x0) / (j - i));
    var g = { date: lines[i][0], items: [] };
    for (var k = i; k < j; k++) g.items.push({ date: lines[k][0], text: lines[k][1], kind: lines[k][2], x: x0 + (k - i) * step });
    g.x = d3.mean(g.items, function(d) { return d.x; });
    groups.push(g);
    i = j;
  }
  return groups;
}
function setPitch(items) {
  items.forEach(function(d, i) {
    var p = i > 0 ? d.x - items[i - 1].x : 99;
    var n = i < items.length - 1 ? items[i + 1].x - d.x : 99;
    d.pitch = Math.min(p, n);
  });
}
function fitText(node, maxLen, fill) {
  var len = node.getComputedTextLength();
  if (len > maxLen || (fill && len > maxLen * 0.7)) {
    node.setAttribute('textLength', maxLen);
    node.setAttribute('lengthAdjust', 'spacingAndGlyphs');
  }
}
function hline(g, x1, x2, y, w) { g.append('line').attr('class', 'ln').attr('x1', x1).attr('x2', x2).attr('y1', y).attr('y2', y).attr('stroke-width', w || 2); }
function vline(g, x, y1, y2, w, cls) { g.append('line').attr('class', cls || 'ln').attr('x1', x).attr('x2', x).attr('y1', y1).attr('y2', y2).attr('stroke-width', w || 2); }
function label(g, str, x, y, size, cls, width, anchor) {
  var t = g.append('text').attr('class', cls).attr('x', x).attr('y', y).attr('font-size', size)
    .attr('text-anchor', anchor || 'middle').text(str);
  if (width) t.attr('textLength', width).attr('lengthAdjust', 'spacingAndGlyphs');
  return t;
}

// hebrew calendar date under each stem
var hebFmt = null;
try {
  var f = new Intl.DateTimeFormat('en-u-ca-hebrew', { timeZone: 'UTC', day: 'numeric', month: 'long', year: 'numeric' });
  if (f.resolvedOptions().calendar === 'hebrew') hebFmt = f;
} catch (e) {}
function hebLabel(ds) {
  if (!hebFmt) return '';
  var parts = hebFmt.formatToParts(parse(ds));
  function get(t) { var p = parts.find(function(q) { return q.type === t; }); return p ? p.value : ''; }
  var m = get('month').replace('Tishri', 'Tishrei').replace('Tamuz', 'Tammuz');
  return '(' + get('day') + ' ' + m + ' ' + (get('year') || get('relatedYear')) + ')';
}

var kindStyle = {
  h: { cls: 'wide', max: 11.5, fill: false },
  e: { cls: 'reg', max: 13, fill: false },
  n: { cls: 'cond', max: 11.5, fill: true }
};

// ---------------- top events ----------------
var topGroups = layoutLines(topLines, xTop, 12);
var topItems = [].concat.apply([], topGroups.map(function(g) { return g.items; }));
setPitch(topItems);
topItems.forEach(function(d) { d.fs = Math.max(5, Math.min(kindStyle[d.kind].max, d.pitch * 0.95)); });

var colX = {};
topGroups.forEach(function(g) { colX[g.date] = g.x; });
boxColumns.forEach(function(col) {
  var before = topItems.filter(function(t) { return t.date <= col[0]; }).pop();
  var after = topItems.find(function(t) { return t.date > col[0]; });
  col.x = (before.x + after.x) / 2;
  colX[col[0]] = col.x;
});

var gTop = svg.append('g');
gTop.selectAll('text').data(topItems).join('text')
  .attr('class', function(d) { return kindStyle[d.kind].cls; })
  .attr('font-size', function(d) { return d.fs.toFixed(2); })
  .attr('letter-spacing', function(d) { return d.kind === 'h' ? (d.fs * 0.08).toFixed(2) : null; })
  .attr('transform', function(d) { return 'translate(' + (d.x + d.fs * 0.36).toFixed(1) + ',' + TOP_Y0 + ') rotate(-90)'; })
  .text(function(d) { return d.text; })
  .each(function(d) { fitText(this, TOP_MAX, kindStyle[d.kind].fill); });

var gTicks = svg.append('g');
topGroups.forEach(function(g) {
  if (g.items.length > 1) {
    var x1 = g.items[0].x, x2 = g.items[g.items.length - 1].x;
    g.items.forEach(function(d) { vline(gTicks, d.x, 626, 633, 1.6); });
    hline(gTicks, x1 - 0.8, x2 + 0.8, 633, 1.6);
    vline(gTicks, g.x, 633, BAR_TOP, 1.6);
  } else {
    vline(gTicks, g.x, 626, BAR_TOP, 1.6);
  }
});

// stems that reach the title / 1260-day band
var upperLines = svg.append('g');
(function() {
  var g = topGroups.find(function(q) { return q.date === '2022-09-27'; });
  vline(upperLines, g.x, 13, 137, 2);
  hline(upperLines, g.items[0].x - 1, g.items[1].x + 1, 137, 2);
  g.items.forEach(function(d) { vline(upperLines, d.x, 137, 143, 2); });
  vline(upperLines, colX['2022-10-17'], TITLE_Y, 143, 2);
  vline(upperLines, colX['2029-09-09'], 13, 141, 2);
})();

// ---------------- boxes ----------------
var boxLayout = {
  '2019-10-09': { w: 68, rows: [[286, 396, 16], [420, 538, 18], [556, 622, 19]] },
  '2023-04-05': { w: 37, rows: [[314, 430, 9.5], [444, 540, 13], [553, 622, 17]] },
  '2023-06-14': { w: 37, rows: [[444, 540, 14], [553, 622, 17]] },
  '2026-03-30': { w: 61, rows: [[303, 446, 20], [474, 550, 20]] },
  '2028-12-13': { w: 56, rows: [[263, 385, 22], [417, 538, 21]] },
  '2029-09-10': { w: 69, rows: [[198, 257, 15], [273, 333, 19], [350, 409, 15], [428, 545, 11.5], [561, 622, 17]] },
  '2029-09-23': { w: 74, rows: [[198, 317, 27], [347, 468, 27], [495, 622, 27]] }
};
var gBox = svg.append('g');
boxColumns.forEach(function(col) {
  var L = boxLayout[col[0]], x = col.x;
  col[1].forEach(function(lines, i) {
    var r = L.rows[i], y0 = r[0], y1 = r[1], fs = r[2];
    if (i > 0) vline(gBox, x, L.rows[i - 1][1], y0, 2.5);
    gBox.append('rect').attr('class', 'box').attr('x', x - L.w / 2).attr('y', y0).attr('width', L.w).attr('height', y1 - y0);
    var n = lines.length, lh = Math.min((y1 - y0 - 6) / n, fs * 1.55), cy = (y0 + y1) / 2;
    lines.forEach(function(s, k) {
      var t = label(gBox, s, x, cy + (k - (n - 1) / 2) * lh + fs * 0.36, fs, 'cond');
      fitText(t.node(), L.w - 6, false);
    });
  });
  vline(gBox, x, L.rows[L.rows.length - 1][1], BAR_TOP, 2.5);
});
vline(gBox, colX['2026-03-30'], TITLE_Y, boxLayout['2026-03-30'].rows[0][0], 2.5);
vline(gBox, colX['2029-09-10'], BAND_Y, boxLayout['2029-09-10'].rows[0][0], 2.5);

// hebrew dates beside each stem
var stems = topGroups.map(function(g) { return [g.date, g.x]; })
  .filter(function(s) { return !boxLayout[s[0]]; })
  .concat(boxColumns.map(function(c) { return [c[0], c.x]; }));
svg.append('g').selectAll('text').data(stems).join('text')
  .attr('class', 'cond').attr('font-size', 6).attr('fill', '#333')
  .attr('transform', function(d) { return 'translate(' + (d[1] - 1.2) + ',687) rotate(-90)'; })
  .text(function(d) { return hebLabel(d[0]); })
  .each(function() { fitText(this, 44, false); });

// ---------------- title area ----------------
var gHead = svg.append('g');
label(gHead, titleText, 922, 58, 43, 'cond', 1237);
var titleX0 = colX['2022-09-27'];
hline(gHead, titleX0, 2032, TITLE_Y, 3);
gHead.append('path').attr('class', 'ln').attr('stroke-width', 3).attr('d', 'M2012,69L2033,79L2012,89');
hline(gHead, colX[topPeriods[0][1]], colX[topPeriods[1][2]], BAND_Y, 3);
var topLabelX = [733, 1379];
topPeriods.forEach(function(p, i) { label(gHead, p[0], topLabelX[i], 111, 27, 'cond', 170); });
vline(gHead, colX[topPeriods[0][1]], TITLE_Y, BAND_Y, 2.5);
// 2030 marker
label(gHead, '2030', 1765, 58, 43, 'cond', 101);
hline(gHead, 1619, 1692, 43, 2.5);
gHead.append('path').attr('class', 'ln').attr('stroke-width', 2.5).attr('d', 'M1633,33L1619,43L1633,53');
label(gHead, 'Year 2030 starts on Sunset of Sept. 9, 2029', 1807, 105, 21, 'cond', 361);
completionNote.forEach(function(s, i) { label(gHead, s, 1860, 13 + i * 12.2, 12, 'cond', null, 'start'); });

// ---------------- bar ----------------
var gBar = svg.append('g');
gBar.append('rect').attr('x', BAR_L).attr('y', BAR_TOP).attr('width', BAR_R - BAR_L).attr('height', BAR_BOT - BAR_TOP)
  .attr('fill', '#fff').attr('stroke', '#231f20').attr('stroke-width', 2.5);
hline(gBar, BAR_R, 2088, (BAR_TOP + BAR_BOT) / 2, 2.5);
gBar.append('path').attr('class', 'ln').attr('stroke-width', 2.5).attr('d', 'M2067,694L2090,705L2067,716');
var breaksX = eraBreaks.map(function(d) { return colX[d]; });
breaksX.forEach(function(x) { vline(gBar, x, BAR_TOP, BAR_BOT, 2.5); });
var eraLabelPos = [[440, 155, 16], [1298, 104, 17], [1630, 135, 16], [(breaksX[3] + BAR_R) / 2, 150, 14]];
eraLabels.forEach(function(s, i) {
  var p = eraLabelPos[i];
  label(gBar, s, p[0], 711, p[2], 'cond', p[1]);
});

// ---------------- below bar ----------------
var gLow = svg.append('g');
var belowGroups = layoutLines(belowLines.map(function(d) { return [d[0], d[1], 'w']; }), xBelow, 8.5);
var belowItems = [].concat.apply([], belowGroups.map(function(g) { return g.items; }));
setPitch(belowItems);
belowItems.forEach(function(d) { d.fs = Math.max(5, Math.min(9, d.pitch * 0.95)); });
gLow.selectAll('text.bl').data(belowItems).join('text').attr('class', 'wide bl')
  .attr('font-size', function(d) { return d.fs.toFixed(2); })
  .attr('transform', function(d) { return 'translate(' + (d.x + d.fs * 0.36).toFixed(1) + ',' + (d.x < 1000 ? BELOW_Y0 : 993) + ') rotate(-90)'; })
  .text(function(d) { return d.text; })
  .each(function() { fitText(this, BELOW_MAX - 8, false); });
belowGroups.forEach(function(g) {
  if (g.items.length > 1) {
    vline(gLow, g.x, BAR_BOT, 745, 1.8);
    hline(gLow, g.items[0].x - 0.9, g.items[g.items.length - 1].x + 0.9, 745, 1.8);
    g.items.forEach(function(d) { vline(gLow, d.x, 745, 752, 1.8); });
  } else {
    vline(gLow, g.x, BAR_BOT, 752, 1.8);
  }
});

// big notes below the bar
var nx = belowNotes.map(function(d) { return xBelow(parse(d[0])); });
var noteLayout = [[1210, 437, 13], [1036, 257, 14.5], [1036, 257, 14.5]];
belowNotes.forEach(function(d, i) {
  var L = noteLayout[i];
  var t = gLow.append('text').attr('class', 'cond').attr('font-size', L[2])
    .attr('transform', 'translate(' + (nx[i] + L[2] * 0.36) + ',' + L[0] + ') rotate(-90)').text(d[1]);
  fitText(t.node(), L[1], false);
});
var xF = colX['2029-09-10'];
gLow.append('path').attr('class', 'ln').attr('stroke-width', 2)
  .attr('d', 'M' + xF + ',' + BAR_BOT + 'L' + nx[0] + ',733L' + nx[0] + ',770');
vline(gLow, nx[1], BAR_BOT, 762, 2);
vline(gLow, nx[2], BAR_BOT, 762, 2);

// drop lines through the lower half
var dropEnds = { '2019-10-09': 810, '2023-04-05': 1027, '2023-06-14': 1177, '2026-10-16': 1047, '2026-11-30': 1113,
                 '2026-03-30': 1030, '2028-12-13': 1120, '2029-09-10': 940, '2029-09-19': 935, '2029-09-23': 1133 };
Object.keys(dropEnds).forEach(function(d) {
  var red = redMarks.indexOf(d) >= 0;
  vline(gLow, colX[d], BAR_BOT, dropEnds[d], 2, red ? 'red' : 'ln');
});

// period brackets
var periodLayout = [
  { y: 995, legL: null, legR: [954, 1031], lab: [1420, 1032, 26, 97] },
  { y: 1080, legL: [1048, 1107], legR: [1054, 1113], lab: [700, 1063, 43, 172] },
  { y: 1150, legL: [1115, 1175], legR: [1126, 1185], lab: [880, 1138, 43, 166] },
  { y: 1244, legL: [1198, 1288], legR: [1152, 1288], lab: [1117, 1226, 45, 187] }
];
bottomPeriods.forEach(function(p, i) {
  var L = periodLayout[i], x1 = colX[p[1]], x2 = colX[p[2]];
  hline(gLow, x1, x2, L.y, 2.5);
  if (L.legL) vline(gLow, x1, L.legL[0], L.legL[1], 2.5);
  vline(gLow, x2, L.legR[0], L.legR[1], 2.5);
  label(gLow, p[0], L.lab[0], L.lab[1], L.lab[2], 'cond', L.lab[3]);
});

// horseman box
gLow.append('rect').attr('class', 'box').attr('x', 13).attr('y', 810).attr('width', 157).attr('height', 225);
horsemanLines.forEach(function(s, i) { if (s) label(gLow, s, 92, 847 + i * 19.9, 15.5, 'reg'); });

// 7 bowls
var bx = (nx[0] + colX['2029-09-19']) / 2 + 3;
bowlsLines.forEach(function(s, i) { if (s) label(gLow, s, bx, 763 + i * 20.9, 16.5, 'cond'); });

// small abomination box
var ex = colX['2028-12-13'];
gLow.append('rect').attr('class', 'box').attr('x', ex - 30).attr('y', 1120).attr('width', 60).attr('height', 67).attr('stroke-width', 2);
['Abomination', 'of', 'Desolation'].forEach(function(s, i) {
  var t = label(gLow, s, ex, 1137 + i * 22, 12, 'cond');
  fitText(t.node(), 56, false);
});

// half labels
var halfPos = [[(colX['2026-11-30'] + ex - 30) / 2, 1085, 28.5, 22], [(ex + 30 + xF) / 2, 1079, 24.5, 21]];
halfLines.forEach(function(lines, i) {
  var P = halfPos[i];
  lines.forEach(function(s, k) { label(gLow, s, P[0], P[1] + k * P[2], P[3], 'cond'); });
});
</script>
</body>
</html>
